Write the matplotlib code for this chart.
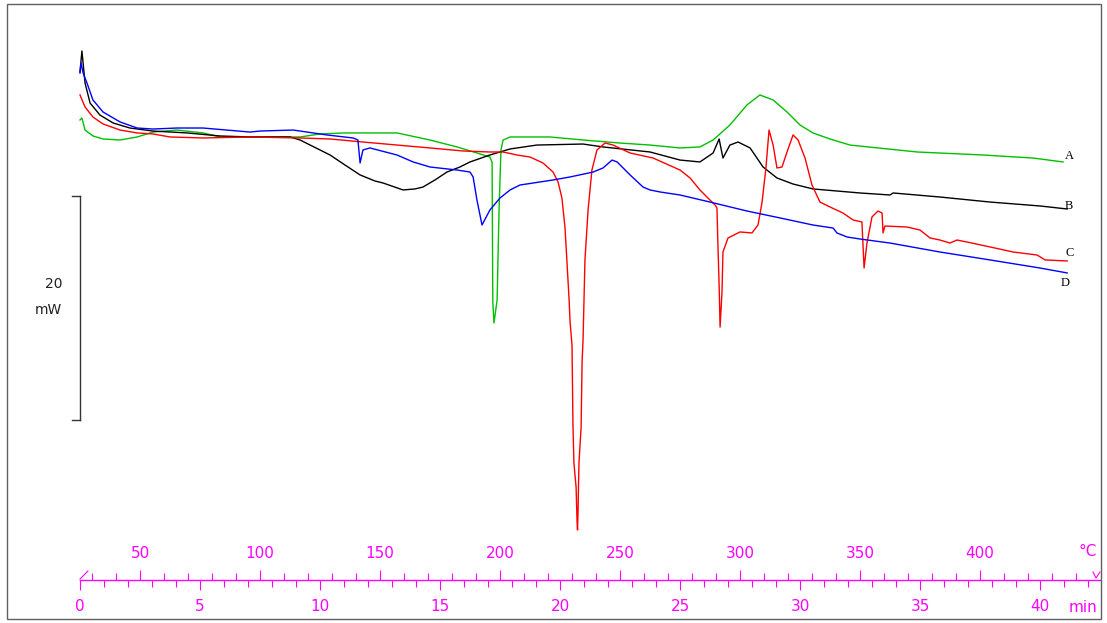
import matplotlib
matplotlib.use("Agg")
import matplotlib.pyplot as plt
from matplotlib.lines import Line2D
from matplotlib.patches import Rectangle
from matplotlib.ticker import FixedLocator, NullFormatter

# DSC curves: time in min, heat flow in mW (offset is arbitrary)
t_A = [0.0, 0.08, 0.21, 0.54, 0.96, 1.67, 2.38, 3.04, 4.04, 5.13, 5.83, 9.17, 10.0, 11.0,
       13.21, 14.58, 15.71, 16.54, 17.08, 17.17, 17.2, 17.25, 17.38, 17.46, 17.54, 17.63,
       17.92, 19.58, 20.96, 22.5, 23.75, 25.0, 25.83, 26.38, 27.08, 27.79, 28.33, 28.88,
       29.46, 30.0, 30.54, 31.25, 32.08, 34.88, 37.63, 39.71, 40.96]
q_A = [26.79, 26.96, 25.89, 25.36, 25.09, 25.0, 25.27, 25.71, 25.89, 25.63, 25.27, 25.27, 25.54, 25.63,
       25.63, 25.0, 24.38, 23.84, 23.48, 23.0, 10.54, 8.66, 10.71, 18.75, 24.11, 25.0,
       25.27, 25.27, 25.0, 24.73, 24.55, 24.29, 24.38, 25.0, 26.34, 28.13, 29.02, 28.57,
       27.5, 26.34, 25.63, 25.09, 24.55, 23.93, 23.66, 23.39, 23.04]

t_B = [0.0, 0.08, 0.21, 0.42, 0.83, 1.38, 2.08, 3.04, 4.46, 5.83, 7.08, 8.75, 9.17, 10.42,
       11.04, 11.67, 12.29, 12.63, 13.46, 13.96, 14.29, 14.79, 15.29, 15.83, 16.25, 17.08,
       17.92, 19.04, 20.96, 21.79, 23.75, 25.0, 25.83, 26.38, 26.63, 26.79, 27.08, 27.42,
       27.92, 28.46, 29.04, 29.71, 30.54, 32.5, 33.75, 33.88, 35.83, 37.92, 40.0, 41.13]
q_B = [31.07, 32.95, 30.09, 28.30, 27.23, 26.52, 26.07, 25.80, 25.63, 25.36, 25.27, 25.27, 25.0, 23.66,
       22.77, 21.88, 21.34, 21.16, 20.54, 20.63, 20.80, 21.43, 22.14, 22.59, 23.04, 23.66,
       24.20, 24.55, 24.64, 24.38, 23.93, 23.21, 23.04, 23.84, 25.09, 23.39, 24.55, 24.82,
       24.29, 22.59, 21.61, 21.07, 20.63, 20.27, 20.09, 20.27, 19.91, 19.46, 19.11, 18.84]

t_C = [0.0, 0.21, 0.54, 0.96, 1.67, 2.38, 3.04, 3.75, 5.13, 7.08, 9.17, 10.42, 11.79, 13.21,
       14.58, 15.96, 17.08, 17.63, 18.21, 18.75, 19.29, 19.71, 19.92, 20.08, 20.21, 20.38,
       20.42, 20.5, 20.52, 20.54, 20.58, 20.67, 20.71, 20.73, 20.75, 20.79, 20.88, 20.92,
       20.96, 21.04, 21.17, 21.33, 21.54, 21.88, 22.21, 22.92, 23.88, 25.0, 25.42, 25.83,
       26.25, 26.46, 26.54, 26.58, 26.63, 26.67, 26.75, 26.79, 27.0, 27.5, 28.0, 28.25,
       28.42, 28.58, 28.71, 28.88, 29.04, 29.25, 29.46, 29.71, 29.92, 30.21, 30.5, 30.83,
       31.25, 31.79, 32.21, 32.58, 32.67, 32.79, 33.0, 33.25, 33.42, 33.46, 33.54, 34.46,
       35.0, 35.42, 35.83, 36.25, 36.54, 36.96, 37.92, 38.88, 39.88, 40.21, 41.13]
q_C = [29.02, 27.95, 27.05, 26.43, 25.89, 25.63, 25.54, 25.27, 25.18, 25.27, 25.18, 25.09, 24.82, 24.55,
       24.29, 24.02, 23.93, 23.93, 23.66, 23.48, 22.95, 22.14, 21.25, 19.82, 17.14, 10.71,
       8.75, 6.70, 3.13, -0.45, -3.84, -5.98, -9.0, -9.82, -8.30, -3.84, -0.63, 5.18,
       7.14, 14.29, 18.75, 22.32, 24.11, 24.73, 24.55, 23.84, 23.39, 22.32, 21.61, 20.54,
       19.64, 19.20, 18.93, 15.63, 12.05, 8.30, 11.43, 15.0, 16.25, 16.79, 16.70, 17.41,
       19.46, 22.5, 25.89, 24.55, 22.5, 22.59, 23.93, 25.45, 25.0, 23.39, 20.98, 19.46,
       19.02, 18.48, 17.86, 17.68, 13.57, 15.80, 18.13, 18.66, 18.48, 16.70, 17.32, 17.23,
       16.96, 16.25, 16.07, 15.80, 16.07, 15.89, 15.45, 15.0, 14.73, 14.29, 14.20]

t_D = [0.0, 0.04, 0.13, 0.29, 0.54, 0.96, 1.67, 2.38, 3.04, 4.04, 5.13, 7.08, 7.5, 8.88,
       10.29, 11.38, 11.58, 11.67, 11.79, 12.08, 13.21, 13.88, 14.58, 15.71, 16.25, 16.38,
       16.54, 16.75, 17.08, 17.5, 17.92, 18.33, 19.71, 20.42, 21.38, 21.79, 22.17, 22.38,
       22.92, 23.46, 23.75, 24.17, 25.0, 26.25, 27.79, 29.17, 30.54, 31.38, 31.54, 31.96,
       32.5, 33.75, 35.83, 37.92, 40.0, 41.13]
q_D = [30.98, 31.88, 30.98, 30.09, 28.57, 27.5, 26.61, 26.07, 25.98, 26.07, 26.07, 25.71, 25.80, 25.89,
       25.45, 25.18, 25.0, 22.95, 24.11, 24.29, 23.66, 23.04, 22.59, 22.32, 22.14, 21.70,
       19.64, 17.41, 18.75, 19.82, 20.54, 20.98, 21.43, 21.70, 22.14, 22.5, 23.21, 23.04,
       21.88, 20.80, 20.54, 20.36, 20.09, 19.46, 18.66, 18.04, 17.41, 17.14, 16.70, 16.34,
       16.16, 15.80, 15.0, 14.29, 13.57, 13.13]

names = ["A", "B", "C", "D"]
colors = ["#00c000", "#000000", "#ff0000", "#0000ff"]
label_offsets = [(1.5, 4.5), (-1.5, 2.5), (-1, 6), (-4.5, -7)]  # points

min_major = list(range(0, 41, 5))
min_minor = list(range(0, 43))
degC_major = list(range(50, 401, 50))
degC_minor = list(range(30, 441, 10))

W, H = 1107, 623
pink = "#ff00ff"

fig = plt.figure(figsize=(W / 100, H / 100), dpi=100)
fig.patch.set_facecolor("white")

# main plotting area spans whole figure, 24 px per min, 11.2 px per mW
ax = fig.add_axes([0, 0, 1, 1])
ax.set_xlim(-80 / 24, (W - 80) / 24)
ax.set_ylim((420 - H) / 11.2, 420 / 11.2)
ax.axis("off")

series = [(t_A, q_A), (t_B, q_B), (t_C, q_C), (t_D, q_D)]
for (t, q), c, n, off in zip(series, colors, names, label_offsets):
    ax.plot(t, q, color=c, lw=1.0)
    ax.annotate(n, (t[-1], q[-1]), xytext=off, textcoords="offset points",
                ha="left", va="center", fontsize=9, family="Liberation Serif")

# scale bar 20 mW
def px(x, y):
    return x / W, 1 - y / H

for xs, ys in [([80, 80], [196, 420]), ([72, 80], [196, 196]), ([72, 80], [420, 420])]:
    p0, p1 = px(xs[0], ys[0]), px(xs[1], ys[1])
    fig.add_artist(Line2D([p0[0], p1[0]], [p0[1], p1[1]], color="#333333", lw=1.0))
fig.text(*px(62, 284), "20", ha="right", va="center", fontsize=10, color="#222222")
fig.text(*px(62, 310), "mW", ha="right", va="center", fontsize=10, color="#222222")

# bottom scale: min below, degC above
sc = fig.add_axes([80 / W, 1 - 580 / H, 1020 / W, 1e-4])
sc.set_xlim(0, 1020 / 24)
sc.set_facecolor("none")
for s in ["top", "left", "right"]:
    sc.spines[s].set_visible(False)
sc.spines["bottom"].set_color(pink)
sc.spines["bottom"].set_linewidth(1.0)
sc.set_yticks([])
sc.xaxis.set_major_locator(FixedLocator(min_major))
sc.xaxis.set_minor_locator(FixedLocator(min_minor))
sc.tick_params(axis="x", which="major", direction="out", length=7.5, width=0.8,
               color=pink, labelcolor=pink, labelsize=11, pad=6)
sc.tick_params(axis="x", which="minor", direction="out", length=5, width=0.8, color=pink)

sec = sc.secondary_xaxis("top", functions=(lambda t: 25 + 10 * t, lambda T: (T - 25) / 10))
sec.spines["top"].set_visible(False)
sec.xaxis.set_major_locator(FixedLocator(degC_major))
sec.xaxis.set_minor_locator(FixedLocator(degC_minor))
sec.xaxis.set_minor_formatter(NullFormatter())
sec.tick_params(axis="x", which="major", direction="out", length=7.5, width=0.8,
                color=pink, labelcolor=pink, labelsize=11, pad=6)
sec.tick_params(axis="x", which="minor", direction="out", length=5, width=0.8, color=pink)

fig.text(*px(1088, 552), "°C", ha="center", va="center", fontsize=11, color=pink)
fig.text(*px(1083, 607), "min", ha="center", va="center", fontsize=11, color=pink)

# small end marks on the scale line
for xs, ys in [([80, 88], [579, 571]), ([1093, 1096, 1100], [572, 578, 572])]:
    pts = [px(x, y) for x, y in zip(xs, ys)]
    fig.add_artist(Line2D([p[0] for p in pts], [p[1] for p in pts], color=pink, lw=0.8))

# outer frame
fig.add_artist(Rectangle(px(7, 619), 1094 / W, 615 / H, fill=False, ec="#606060", lw=1.0))

fig.savefig("out.png", dpi=100)
